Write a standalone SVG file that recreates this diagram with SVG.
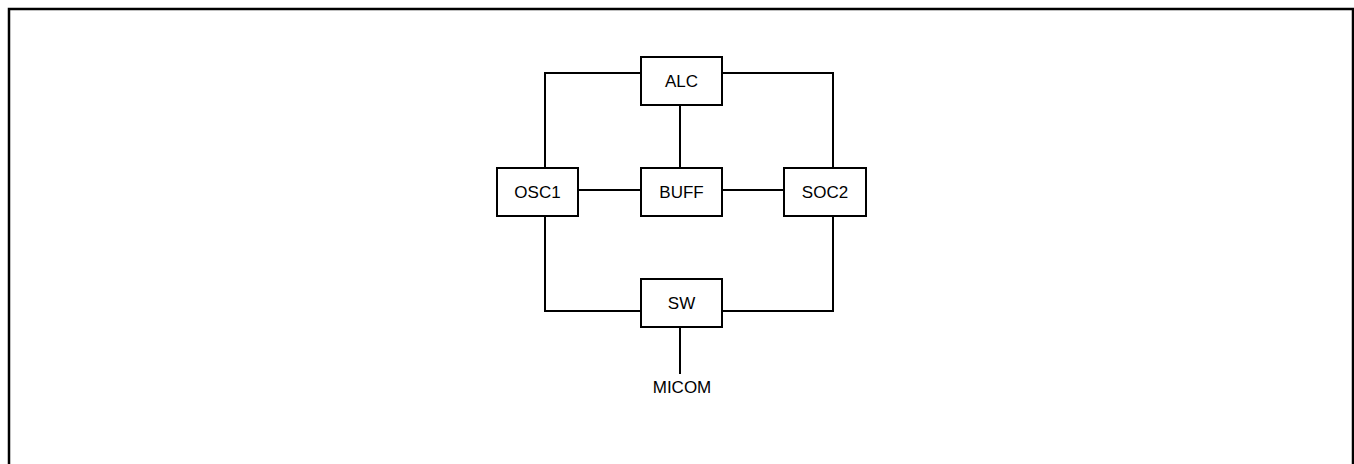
<svg xmlns="http://www.w3.org/2000/svg" width="1354" height="464" viewBox="0 0 1354 464">
<style>
.box{fill:#fff;stroke:#000;stroke-width:2}
.ln{fill:none;stroke:#000;stroke-width:2}
.t{font-family:"Liberation Sans",Arial,sans-serif;font-size:17px;fill:#000;text-anchor:middle}
</style>
<rect x="0" y="0" width="1354" height="464" fill="#fff"/>
<rect x="9" y="9" width="1344" height="470" fill="none" stroke="#000" stroke-width="2.5"/>
<g id="connectors" class="ln">
<polyline points="641,73 545,73 545,168"/>
<polyline points="722,73 833,73 833,168"/>
<line x1="680" y1="105" x2="680" y2="168"/>
<line x1="578" y1="190" x2="641" y2="190"/>
<line x1="722" y1="190" x2="784" y2="190"/>
<polyline points="545,216 545,311 641,311"/>
<polyline points="833,216 833,311 722,311"/>
<line x1="680" y1="327" x2="680" y2="374"/>
</g>
<g id="ALC"><rect class="box" x="641" y="57" width="81" height="48"/><text class="t" x="681.5" y="87">ALC</text></g>
<g id="OSC1"><rect class="box" x="497" y="168" width="81" height="48"/><text class="t" x="537.5" y="198">OSC1</text></g>
<g id="BUFF"><rect class="box" x="641" y="168" width="81" height="48"/><text class="t" x="681.5" y="198">BUFF</text></g>
<g id="SOC2"><rect class="box" x="784" y="168" width="82" height="48"/><text class="t" x="825" y="198">SOC2</text></g>
<g id="SW"><rect class="box" x="641" y="279" width="81" height="48"/><text class="t" x="681.5" y="309">SW</text></g>
<g id="MICOM"><text class="t" x="682" y="393">MICOM</text></g>
</svg>
